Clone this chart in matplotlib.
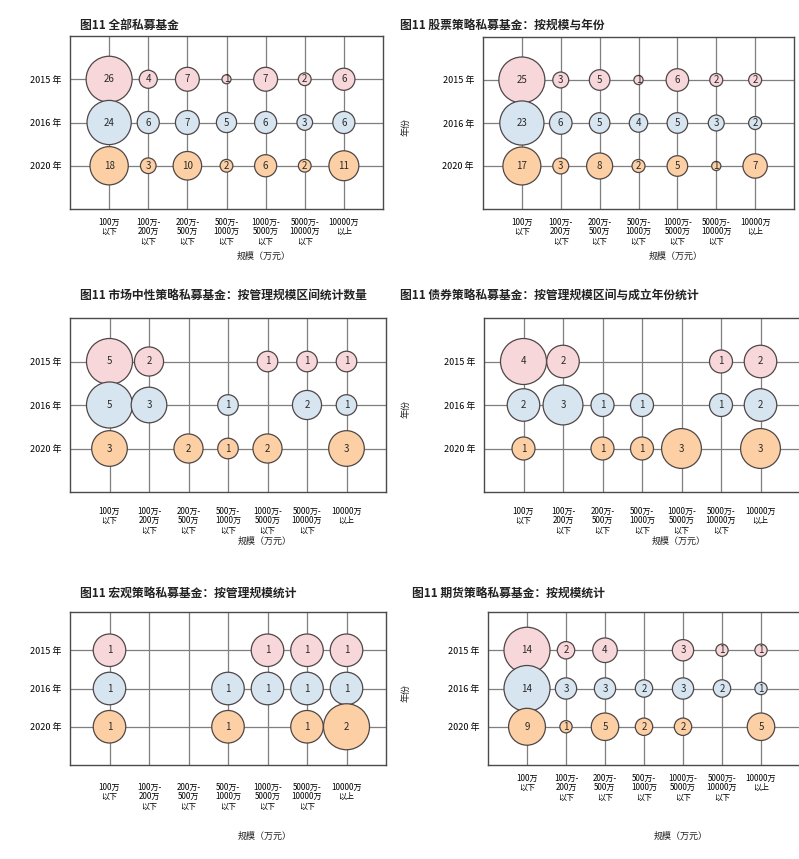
import matplotlib
matplotlib.use("Agg")
import matplotlib.pyplot as plt
import numpy as np

plt.rcParams['font.family'] = ['Noto Sans CJK SC', 'DejaVu Sans']

# ---------------- data ----------------
size_bins = ["100万\n以下", "100万-\n200万\n以下", "200万-\n500万\n以下", "500万-\n1000万\n以下",
             "1000万-\n5000万\n以下", "5000万-\n10000万\n以下", "10000万\n以上"]
years = ["2015 年", "2016 年", "2020 年"]   # top -> bottom

titles = [
    "图11 全部私募基金",
    "图11 股票策略私募基金：按规模与年份",
    "图11 市场中性策略私募基金：按管理规模区间统计数量",
    "图11 债券策略私募基金：按管理规模区间与成立年份统计",
    "图11 宏观策略私募基金：按管理规模统计",
    "图11 期货策略私募基金：按规模统计",
]

p1_top = [26, 4, 7, 1, 7, 2, 6]
p1_mid = [24, 6, 7, 5, 6, 3, 6]
p1_bot = [18, 3, 10, 2, 6, 2, 11]

p2_top = [25, 3, 5, 1, 6, 2, 2]
p2_mid = [23, 6, 5, 4, 5, 3, 2]
p2_bot = [17, 3, 8, 2, 5, 1, 7]

p3_top = [5, 2, 0, 0, 1, 1, 1]
p3_mid = [5, 3, 0, 1, 0, 2, 1]
p3_bot = [3, 0, 2, 1, 2, 0, 3]

p4_top = [4, 2, 0, 0, 0, 1, 2]
p4_mid = [2, 3, 1, 1, 0, 1, 2]
p4_bot = [1, 0, 1, 1, 3, 0, 3]

p5_top = [1, 0, 0, 0, 1, 1, 1]
p5_mid = [1, 0, 0, 1, 1, 1, 1]
p5_bot = [1, 0, 0, 1, 0, 1, 2]

p6_top = [14, 2, 4, 0, 3, 1, 1]
p6_mid = [14, 3, 3, 2, 3, 2, 1]
p6_bot = [9, 1, 5, 2, 2, 0, 5]

panels = [
    (p1_top, p1_mid, p1_bot),
    (p2_top, p2_mid, p2_bot),
    (p3_top, p3_mid, p3_bot),
    (p4_top, p4_mid, p4_bot),
    (p5_top, p5_mid, p5_bot),
    (p6_top, p6_mid, p6_bot),
]

row_colors = ["#f8d7da", "#d7e5f1", "#fcd0a4"]
edge_color = "#4f4747"
xlabel_text = "规模（万元）"
ylabel_text = "年份"

# ---------------- layout (pixels) ----------------
W, H = 799, 859
fig = plt.figure(figsize=(W / 100, H / 100), dpi=100)
fig.patch.set_facecolor("white")

def rect(l, t, r, b):
    return [l / W, 1 - b / H, (r - l) / W, (b - t) / H]

# (axes rect, title x, title y, xtick pad px, xlabel y, ylabel?)
layout = [
    ((70, 36, 383, 209), 80, 25, 9, 256, False),
    ((483, 37, 794, 209), 400, 25, 9, 256, True),
    ((70, 318, 386, 492), 80, 295, 15, 541, False),
    ((484, 318, 800, 492), 400, 295, 15, 541, True),
    ((70, 612, 386, 765), 80, 593, 18, 836, False),
    ((488, 612, 800, 765), 412, 593, 9, 836, True),
]

max_diam_px = 46.0
smax = (max_diam_px * 72 / 100) ** 2

for (rows, (r, tx, ty, xpad, xly, has_ylab), title) in zip(panels, layout, titles):
    ax = fig.add_axes(rect(*r))
    vmax = max(max(rw) for rw in rows)
    nx = len(size_bins)
    for ri, (vals, col) in enumerate(zip(rows, row_colors)):
        yv = 2 - ri
        xs = [i for i, v in enumerate(vals) if v > 0]
        vs = [v for v in vals if v > 0]
        sizes = [smax * v / vmax for v in vs]
        ax.scatter(xs, [yv] * len(xs), s=sizes, c=col, edgecolors=edge_color,
                   linewidths=0.9, zorder=3)
        for x, v in zip(xs, vs):
            ax.text(x, yv, str(v), ha="center", va="center", fontsize=7,
                    color="#2a2a2a", zorder=4)
    ax.set_xlim(-1, nx)
    ax.set_ylim(-1, 3)
    ax.set_xticks(range(nx))
    ax.set_xticklabels(size_bins, fontsize=5.8, linespacing=1.05, va="top")
    ax.set_yticks([2, 1, 0])
    ax.set_yticklabels(years, fontsize=6.5)
    ax.tick_params(axis="both", length=0)
    ax.tick_params(axis="x", pad=xpad * 0.72)
    ax.tick_params(axis="y", pad=9 * 0.72)
    ax.grid(True, color="#7f7f7f", linewidth=0.9)
    ax.set_axisbelow(True)
    for sp in ax.spines.values():
        sp.set_color("#4a4a4a")
        sp.set_linewidth(1.0)
    # title
    fig.text(tx / W, 1 - ty / H, title, ha="left", va="center", fontsize=8.5,
             fontweight="bold", color="#222222")
    # xlabel (offset to the right of centre)
    cx = (r[0] + r[2]) / 2 + 37
    fig.text(cx / W, 1 - xly / H, xlabel_text, ha="center", va="center",
             fontsize=6.5, color="#222222")
    if has_ylab:
        fig.text(406 / W, 1 - ((r[1] + r[3]) / 2 + 4) / H, ylabel_text, ha="center",
                 va="center", rotation=90, fontsize=6.5, color="#222222")

fig.savefig("out.png", dpi=100, facecolor="white")
